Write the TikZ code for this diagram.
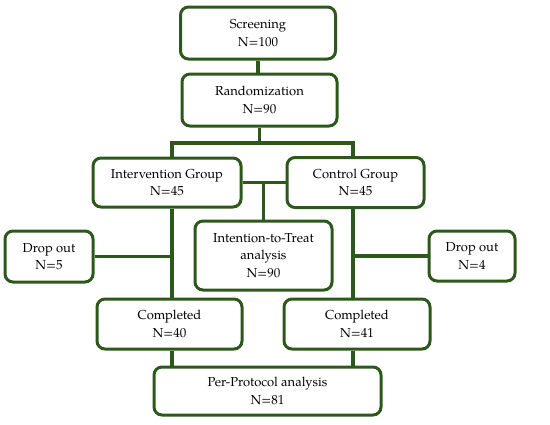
\documentclass[tikz,border=0pt]{standalone}
\usepackage{fontspec}
\setmainfont{TeX Gyre Pagella}
\usepackage{tikz}
\definecolor{boxgreen}{RGB}{44,88,28}
\begin{document}
\begin{tikzpicture}[x=1pt,y=-1pt,
  flowbox/.style={draw=boxgreen, line width=3pt, rounded corners=8pt, fill=white,
    align=center, inner sep=2pt, font=\fontsize{13}{17.5}\selectfont},
  link/.style={draw=boxgreen, line width=3.2pt}]
\useasboundingbox (0,0) rectangle (550,424);
\coordinate (xl) at (172,0);
\coordinate (xr) at (353,0);
\coordinate (bar) at (0,143);
\node[flowbox, minimum width=155pt, minimum height=52pt] (scr) at (258,33) {Screening\\N=100};
\node[flowbox, minimum width=155pt, minimum height=52pt] (rand) at (259.5,100) {Randomization\\N=90};
\node[flowbox, minimum width=148pt, minimum height=49pt] (intv) at (167,182.5) {Intervention Group\\N=45};
\node[flowbox, minimum width=137pt, minimum height=50pt] (ctrl) at (355.5,182.5) {Control Group\\N=45};
\node[flowbox, minimum width=137pt, minimum height=69pt] (itt) at (263.5,255.5) {Intention-to-Treat\\analysis\\N=90};
\node[flowbox, minimum width=88pt, minimum height=51pt] (dl) at (49,256.5) {Drop out\\N=5};
\node[flowbox, minimum width=86pt, minimum height=50pt] (dr) at (472,256) {Drop out\\N=4};
\node[flowbox, minimum width=145pt, minimum height=50pt] (cl) at (169.5,324) {Completed\\N=40};
\node[flowbox, minimum width=146pt, minimum height=50pt] (cr) at (357,324) {Completed\\N=41};
\node[flowbox, minimum width=227pt, minimum height=48pt] (pp) at (267.5,391) {Per-Protocol analysis\\N=81};
\draw[link] (scr.south) -- (scr.south |- rand.north);
\draw[link] (rand.south) -- (rand.south |- bar);
\draw[link] (intv.north -| xl) -- (xl |- bar) -- (xr |- bar) -- (ctrl.north -| xr);
\draw[link] (intv.east) -- (ctrl.west);
\draw[link] (itt.north) -- (itt.north |- intv.east);
\draw[link] (intv.south -| xl) -- (cl.north -| xl);
\draw[link] (ctrl.south -| xr) -- (cr.north -| xr);
\draw[link] (dl.east) -- (dl.east -| xl);
\draw[link] (dr.west) -- (dr.west -| xr);
\draw[link] (cl.south -| xl) -- (pp.north -| xl);
\draw[link] (cr.south -| xr) -- (pp.north -| xr);
\end{tikzpicture}
\end{document}
